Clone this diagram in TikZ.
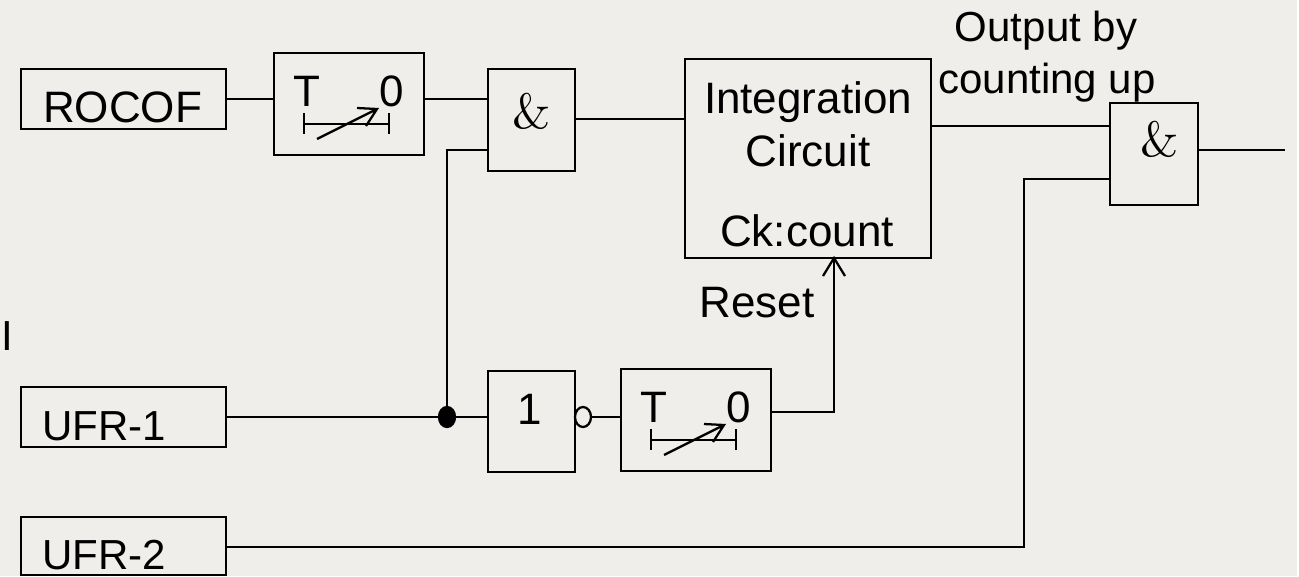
\documentclass[tikz,border=0pt]{standalone}
\usepackage{fontspec}
\setmainfont{Liberation Sans}
\newfontfamily\ampfont{lmroman10-regular.otf}
\definecolor{slidebg}{RGB}{239,238,234}
\tikzset{every picture/.style={line width=1.7pt}}
\tikzset{
  blockbox/.style 2 args={draw,anchor=north west,inner sep=0pt,outer sep=0pt,minimum width=#1*0.75pt,minimum height=#2*0.75pt},
  lbl/.style={anchor=base,inner sep=0pt,font=\fontsize{31.5}{36}\selectfont},
  lblbig/.style={anchor=base,inner sep=0pt,font=\fontsize{33}{38}\selectfont},
  amp/.style={anchor=base,inner sep=0pt,font=\ampfont\fontsize{37}{42}\selectfont},
}

\begin{document}
\begin{tikzpicture}[x=0.75pt,y=0.75pt,yscale=-1,xscale=1]
\useasboundingbox (0,0) rectangle (1299,576);
\fill [slidebg] (0,0) rectangle (1297,576);

%boxes
\node [blockbox={205}{60}] (rocof) at (21,69) {};
\node [blockbox={150}{102}] (delayA) at (274,53) {};
\node [blockbox={87}{102}] (andA) at (488,69) {};
\node [blockbox={246}{199}] (integ) at (685,59) {};
\node [blockbox={88}{102}] (andB) at (1110,103) {};
\node [blockbox={205}{60}] (ufrA) at (21,387) {};
\node [blockbox={87}{101}] (orbox) at (488,371) {};
\node [blockbox={150}{102}] (delayB) at (621,369) {};
\node [blockbox={205}{58}] (ufrB) at (21,517) {};

%inverter and junction
\node [draw,circle,inner sep=0pt,outer sep=0pt,xscale=0.8,minimum size=15pt] (invert) at (583,417) {};
\node [fill=black,draw,circle,inner sep=0pt,outer sep=0pt,xscale=0.8,minimum size=15pt] (junction) at (447,417) {};

%timer symbols
\foreach \tm/\nm in {delayA/a,delayB/b} {
  \begin{scope}[shift={(\tm.north west)}]
    \node [lblbig] (tsym\nm) at (33,53) {T};
    \node [lblbig] (zero\nm) at (118,53) {0};
    \draw (30,60) -- (30,81) (30,71) -- (115,71) (115,60) -- (115,81);
    \draw (43,86) -- (103,56) (83,55) -- (103,56) -- (92,73);
  \end{scope}
}

%points on the connectors
\coordinate (inAup) at (488,99);
\coordinate (inAlo) at (488,150);
\coordinate (outA) at (575,119);
\coordinate (inBup) at (1110,126);
\coordinate (inBlo) at (1110,179);
\coordinate (outB) at (1285,150);
\coordinate (ufrAout) at (226,417);
\coordinate (ufrBout) at (226,547);
\coordinate (delayBout) at (771,412);
\coordinate (resetin) at (834,258);

%connectors
\draw (inAup -| rocof.east) -- (inAup -| delayA.west);
\draw (inAup -| delayA.east) -- (inAup);
\draw (outA) -- (outA -| integ.west);
\draw (inAlo) -- (inAlo -| junction) -- (junction);
\draw (ufrAout) -- (junction) -- (ufrAout -| orbox.west);
\draw (invert.east) -- (invert.east -| delayB.west);
\draw (delayBout) -- (delayBout -| resetin) -- (resetin);
\draw (resetin) ++(-11,18) -- (resetin) -- ++(11,18);
\draw (inBup -| integ.east) -- (inBup);
\draw (ufrBout) -- (ufrBout -| 1024,0) -- (1024,179) -- (inBlo);
\draw (andB.east |- outB) -- (outB);

%text
\node [lblbig,anchor=base west] (rocoftxt) at (42,122) {ROCOF};
\node [amp] (andAtxt) at (532,128) {\&};
\node [lblbig] (integtxt) at (808,113) {Integration};
\node [lblbig] (circtxt) at (808,166) {Circuit};
\node [lblbig] (cktxt) at (807,246) {Ck:count};
\node [lblbig] (resettxt) at (757,317) {Reset};
\node [lbl] (outtxt) at (1046,41) {Output by};
\node [lbl] (counttxt) at (1047,93) {counting up};
\node [amp] (andBtxt) at (1160,156) {\&};
\node [lblbig] (ortxt) at (530,424) {1};
\node [lbl,anchor=base west] (ufrAtxt) at (41,440) {UFR-1};
\node [lbl,anchor=base west] (ufrBtxt) at (41,569) {UFR-2};
\node [lbl,anchor=base west] (edgetxt) at (0,350) {I};

\end{tikzpicture}
\end{document}
